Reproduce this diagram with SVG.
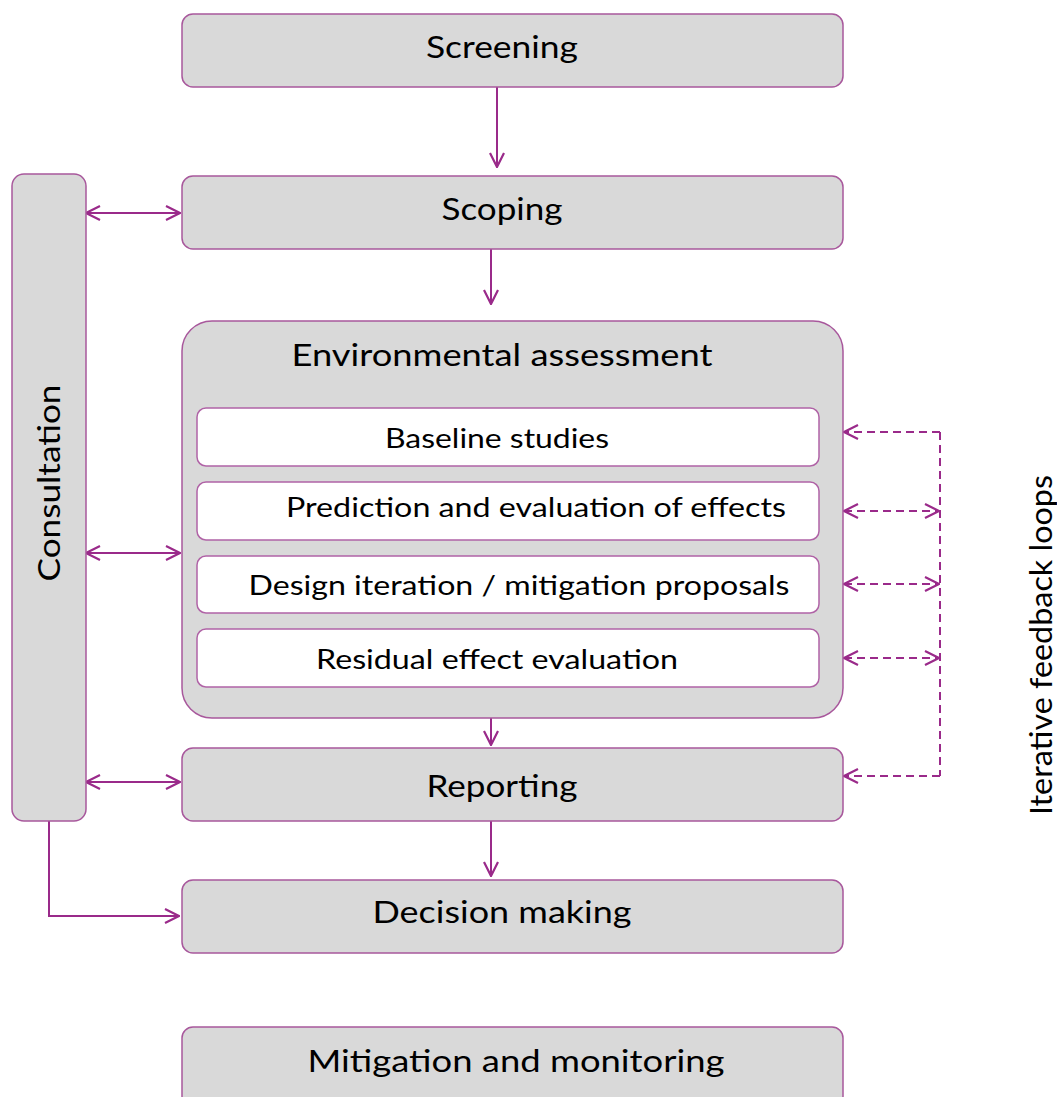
<svg xmlns="http://www.w3.org/2000/svg" width="1057" height="1097" viewBox="0 0 1057 1097">
<style>
.box{fill:#d9d9d9;stroke:#a8589c;stroke-width:1.5}
.inner{fill:#ffffff;stroke:#b063a6;stroke-width:1.5}
.t{font-family:Lato,"Open Sans","Liberation Sans",sans-serif;fill:#000;text-anchor:middle}
.big{font-size:31px}
.small{font-size:26px}
.c{fill:none;stroke:#9a2a8a;stroke-width:2}
.d{fill:none;stroke:#9a2a8a;stroke-width:2;stroke-dasharray:8 5}
</style>
<defs>
<marker id="ah" viewBox="0 0 16 16" refX="15" refY="8" markerWidth="16" markerHeight="16" markerUnits="userSpaceOnUse" orient="auto-start-reverse">
<path d="M1,1 L15,8 L1,15" fill="none" stroke="#9a2a8a" stroke-width="2.2"/>
</marker>
</defs>
<rect width="1057" height="1097" fill="#fff"/>
<g id="connectors">
<line class="c" x1="497" y1="87" x2="497" y2="167" marker-end="url(#ah)"/>
<line class="c" x1="491" y1="249" x2="491" y2="304" marker-end="url(#ah)"/>
<line class="c" x1="491" y1="718" x2="491" y2="745" marker-end="url(#ah)"/>
<line class="c" x1="491" y1="821" x2="491" y2="876" marker-end="url(#ah)"/>
<line class="c" x1="86" y1="213" x2="180" y2="213" marker-start="url(#ah)" marker-end="url(#ah)"/>
<line class="c" x1="86" y1="553" x2="180" y2="553" marker-start="url(#ah)" marker-end="url(#ah)"/>
<line class="c" x1="86" y1="782" x2="180" y2="782" marker-start="url(#ah)" marker-end="url(#ah)"/>
<polyline class="c" points="49,821 49,916 179,916" marker-end="url(#ah)"/>
<polyline class="d" points="940,432 940,776"/>
<line class="d" x1="940" y1="432" x2="844" y2="432" marker-end="url(#ah)"/>
<line class="d" x1="844" y1="511" x2="939" y2="511" marker-start="url(#ah)" marker-end="url(#ah)"/>
<line class="d" x1="844" y1="584" x2="939" y2="584" marker-start="url(#ah)" marker-end="url(#ah)"/>
<line class="d" x1="844" y1="658" x2="939" y2="658" marker-start="url(#ah)" marker-end="url(#ah)"/>
<line class="d" x1="940" y1="776" x2="844" y2="776" marker-end="url(#ah)"/>
</g>
<g id="screening"><rect class="box" x="182" y="14" width="661" height="73" rx="11"/><text class="t big" x="502" y="58" textLength="152" lengthAdjust="spacingAndGlyphs">Screening</text></g>
<g id="scoping"><rect class="box" x="182" y="176" width="661" height="73" rx="11"/><text class="t big" x="502" y="220" textLength="121" lengthAdjust="spacingAndGlyphs">Scoping</text></g>
<g id="consultation"><rect class="box" x="12" y="174" width="74" height="647" rx="12"/><text class="t big" transform="translate(60,483) rotate(-90)" x="0" y="0" textLength="197" lengthAdjust="spacingAndGlyphs">Consultation</text></g>
<g id="env-assessment"><rect class="box" x="182" y="321" width="661" height="397" rx="30"/><text class="t big" x="502" y="366" textLength="421" lengthAdjust="spacingAndGlyphs">Environmental assessment</text></g>
<g id="baseline"><rect class="inner" x="197" y="408" width="622" height="58" rx="9"/><text class="t small" x="497" y="448" textLength="224" lengthAdjust="spacingAndGlyphs">Baseline studies</text></g>
<g id="prediction"><rect class="inner" x="197" y="482" width="622" height="58" rx="9"/><text class="t small" x="536" y="517" textLength="500" lengthAdjust="spacingAndGlyphs">Prediction and evaluation of effects</text></g>
<g id="design"><rect class="inner" x="197" y="556" width="622" height="57" rx="9"/><text class="t small" x="519" y="595" textLength="541" lengthAdjust="spacingAndGlyphs">Design iteration / mitigation proposals</text></g>
<g id="residual"><rect class="inner" x="197" y="629" width="622" height="58" rx="9"/><text class="t small" x="497" y="669" textLength="362" lengthAdjust="spacingAndGlyphs">Residual effect evaluation</text></g>
<g id="reporting"><rect class="box" x="182" y="748" width="661" height="73" rx="11"/><text class="t big" x="502" y="797" textLength="151" lengthAdjust="spacingAndGlyphs">Reporting</text></g>
<g id="decision"><rect class="box" x="182" y="880" width="661" height="73" rx="11"/><text class="t big" x="502" y="923" textLength="259" lengthAdjust="spacingAndGlyphs">Decision making</text></g>
<g id="mitigation"><rect class="box" x="182" y="1027" width="661" height="80" rx="11"/><text class="t big" x="516" y="1072" textLength="417" lengthAdjust="spacingAndGlyphs">Mitigation and monitoring</text></g>
<g id="feedback-label"><text class="t big" transform="translate(1052,645) rotate(-90)" x="0" y="0" textLength="340" lengthAdjust="spacingAndGlyphs">Iterative feedback loops</text></g>
</svg>
